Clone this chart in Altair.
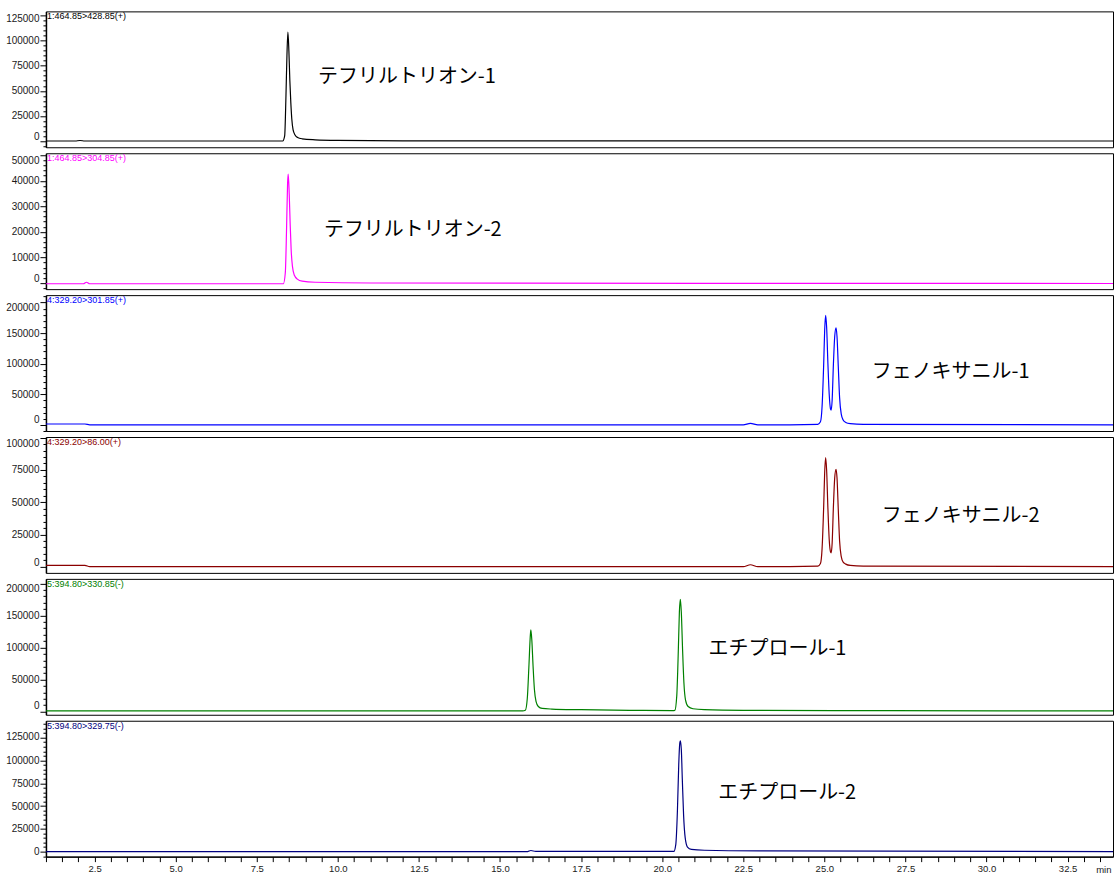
import math
import altair as alt
import pandas as pd

# Retention-time window (min)
X_MIN, X_MAX = 1.0, 33.9

# MRM channel traces: retention time (min) and intensity
t1 = [1.0, 1.9, 2.05, 2.2, 8.30, 8.36, 8.40, 8.43, 8.46, 8.49, 8.52, 8.55, 8.58, 8.62, 8.68, 8.76, 8.90, 9.30, 10.0, 12.0, 33.9]
v1 = [0, 0, 500, 0, 0, 5000, 45000, 85000, 108600, 90000, 60000, 38000, 22000, 11000, 6000, 3500, 2200, 1200, 600, 200, 0]

t2 = [1.0, 2.15, 2.25, 2.35, 8.32, 8.38, 8.42, 8.45, 8.47, 8.50, 8.53, 8.56, 8.60, 8.66, 8.75, 8.90, 9.30, 11.0, 33.9]
v2 = [-300, -300, 300, -300, -300, 4000, 22000, 39000, 42600, 35000, 23000, 13000, 6500, 3000, 1500, 700, 300, 0, -200]

t3 = [1.0, 2.2, 2.35, 22.5, 22.72, 22.95, 24.80, 24.88, 24.93, 24.98, 25.01, 25.04, 25.07, 25.11, 25.15,
      25.19, 25.21, 25.24, 25.28, 25.32, 25.36, 25.39, 25.43, 25.47, 25.52, 25.58, 25.66, 25.80, 26.2, 33.9]
v3 = [1500, 1500, 0, 0, 2500, 0, 1000, 5000, 30000, 100000, 155000, 179000, 160000, 100000, 50000,
      26000, 24300, 40000, 100000, 145000, 158800, 145000, 95000, 45000, 18000, 8000, 4000, 2000, 800, 0]

t4 = [1.0, 2.2, 2.35, 22.5, 22.72, 22.95, 24.80, 24.88, 24.93, 24.98, 25.01, 25.04, 25.07, 25.11, 25.15,
      25.19, 25.21, 25.24, 25.28, 25.32, 25.36, 25.39, 25.43, 25.47, 25.52, 25.58, 25.66, 25.80, 26.2, 33.9]
v4 = [1000, 1000, 0, 0, 1500, 0, 500, 2500, 14000, 47000, 73000, 84500, 75000, 45000, 21000,
      11500, 10700, 18000, 47000, 69000, 75500, 69000, 44000, 20000, 8000, 3500, 2000, 1000, 500, 0]

t5 = [1.0, 15.70, 15.78, 15.84, 15.89, 15.93, 15.95, 15.98, 16.02, 16.06, 16.11, 16.18, 16.30, 16.60, 17.5, 19.0,
      20.32, 20.39, 20.45, 20.50, 20.53, 20.56, 20.59, 20.63, 20.67, 20.72, 20.80, 20.95, 21.3, 22.5, 27.0, 33.9]
v5 = [1000, 1000, 2000, 20000, 70000, 115000, 127500, 112000, 70000, 35000, 16000, 8000, 5000, 4000, 3000, 2000,
      1500, 2000, 25000, 100000, 155000, 175000, 155000, 95000, 45000, 18000, 8000, 4500, 3000, 2000, 1500, 1000]

t6 = [1.0, 15.85, 15.95, 16.1, 20.36, 20.42, 20.47, 20.51, 20.54, 20.56, 20.59, 20.62, 20.66, 20.71, 20.78, 20.90, 21.3, 23.0, 33.9]
v6 = [0, 0, 1200, 200, 200, 8000, 45000, 95000, 118000, 121400, 112000, 80000, 40000, 15000, 5000, 2500, 1500, 800, 0]

channels = ["1:464.85>428.85(+)", "1:464.85>304.85(+)", "4:329.20>301.85(+)",
            "4:329.20>86.00(+)", "5:394.80>330.85(-)", "5:394.80>329.75(-)"]
colors = ["#000000", "#FF00FF", "#0000FF", "#8B0000", "#008000", "#000080"]
compounds = ["テフリルトリオン-1", "テフリルトリオン-2", "フェノキサニル-1",
             "フェノキサニル-2", "エチプロール-1", "エチプロール-2"]
# compound label anchor (retention time, intensity)
compound_t = [9.39, 9.57, 26.46, 26.77, 21.43, 21.73]
compound_v = [63700, 20800, 86400, 39200, 97900, 64000]

y_domains = [[-6250, 129200], [-2400, 50750], [-10000, 212250],
             [-4800, 100500], [-4900, 207100], [-5500, 143500]]
major_steps = [25000, 10000, 50000, 25000, 50000, 25000]
minor_steps = [5000, 2000, 10000, 5000, 10000, 5000]
# the end labels of each intensity axis are nudged inwards
top_labels = [125000, 50000, 200000, 100000, 200000, 125000]
top_nudge = [3, 5, 4.5, 6, 5, -1.5]
zero_nudge = [-4.5, -4, -5, -4.5, -6, 0]

x_ticks = [1.0 + 0.5 * k for k in range(66)]

traces = [(t1, v1), (t2, v2), (t3, v3), (t4, v4), (t5, v5), (t6, v6)]

W, H = 1068, 136
AXIS_FONT = "Liberation Sans"


def panel(i, bottom):
    times, values = traces[i]
    lo, hi = y_domains[i]
    major, minor = major_steps[i], minor_steps[i]
    yticks = [minor * k for k in range(math.ceil(lo / minor), math.floor(hi / minor) + 1)]

    xscale = alt.Scale(domain=[X_MIN, X_MAX], nice=False, zero=False)
    yscale = alt.Scale(domain=[lo, hi], nice=False, zero=False)

    if bottom:
        xaxis = alt.Axis(
            values=x_ticks, tickCount=500,
            labelExpr="datum.value % 2.5 === 0 ? format(datum.value, '.1f') : ''",
            tickSize=5, tickColor="black", domainColor="black", domainWidth=1.5,
            labelFont=AXIS_FONT, labelFontSize=9.5, labelColor="#1a1a1a", labelPadding=2,
            labelFlush=False, labelOverlap=False, grid=False,
            title="min", titleFont=AXIS_FONT, titleFontSize=9.5, titleFontWeight="normal",
            titleColor="#1a1a1a", titleAngle=0, titleAlign="right", titleBaseline="middle",
            titleX=W - 2, titleY=13,
        )
    else:
        xaxis = None

    yaxis = alt.Axis(
        values=yticks, tickCount=500, format="d",
        labelExpr=f"datum.value % {major} === 0 ? datum.label : ''",
        tickSize={"condition": {"test": f"datum.value % {major} === 0", "value": 6}, "value": 3},
        labelOffset={
            "condition": [
                {"test": "datum.value === 0", "value": zero_nudge[i]},
                {"test": f"datum.value === {top_labels[i]}", "value": top_nudge[i]},
            ],
            "value": 0,
        },
        tickColor="black", domainColor="black", domainWidth=1.5,
        labelFont=AXIS_FONT, labelFontSize=10, labelColor="#1a1a1a", labelPadding=1,
        labelFlush=False, labelOverlap=False, grid=False, title=None,
    )

    df = pd.DataFrame({"t": times, "v": values})
    line = alt.Chart(df).mark_line(
        color=colors[i], strokeWidth=1.2, clip=True, interpolate="monotone"
    ).encode(
        x=alt.X("t:Q", scale=xscale, axis=xaxis),
        y=alt.Y("v:Q", scale=yscale, axis=yaxis),
    )

    # channel name in the top-left corner of the panel
    chan = alt.Chart(pd.DataFrame({"s": [channels[i]]})).mark_text(
        align="left", baseline="top", dx=1, dy=1,
        font=AXIS_FONT, fontSize=9, color=colors[i],
    ).encode(x=alt.datum(X_MIN), y=alt.datum(hi), text="s:N")

    name = alt.Chart(pd.DataFrame({"s": [compounds[i]]})).mark_text(
        align="left", baseline="middle",
        font="Noto Sans CJK JP", fontSize=20, color="black",
    ).encode(x=alt.datum(compound_t[i]), y=alt.datum(compound_v[i]), text="s:N")

    return alt.layer(line, chan, name).properties(width=W, height=H)


chart = alt.vconcat(
    *[panel(i, i == 5) for i in range(6)], spacing=6, bounds="flush"
).resolve_scale(
    y="independent"
).properties(
    padding={"left": 5, "top": 10, "right": 1, "bottom": 4},
    background="white",
).configure_view(
    stroke="black", strokeWidth=1
)

chart.save("out.html", embed_options={"renderer": "svg", "actions": False})
